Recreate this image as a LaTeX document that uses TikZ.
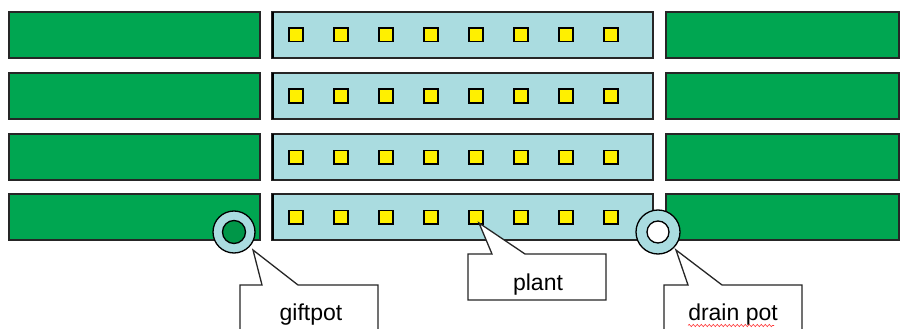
\documentclass[tikz,border=0pt]{standalone}
\usepackage{fontspec}
\setmainfont{Liberation Sans}
\usetikzlibrary{decorations.pathmorphing}
\definecolor{bedgreen}{RGB}{0,166,81}
\definecolor{potgreen}{RGB}{0,150,72}
\definecolor{pathblue}{RGB}{170,220,224}
\definecolor{plantyellow}{RGB}{255,240,0}
\tikzset{
  bed/.style={draw=black!85,line width=1.1pt,fill=bedgreen},
  walk/.style={draw=black!85,line width=1.1pt,fill=pathblue},
  seedling/.style={draw=black,line width=1.5pt,fill=plantyellow,minimum width=14pt,minimum height=13.5pt,inner sep=0pt},
  potring/.style={draw=black,line width=1.3pt,fill=pathblue,circle,inner sep=0pt},
  callout/.style={draw=black!85,line width=1.3pt,fill=white},
  lbl/.style={font=\fontsize{23}{27}\selectfont,anchor=base,inner sep=0pt}
}
\begin{document}
\begin{tikzpicture}[x=1pt,y=-1pt]
\useasboundingbox (0,0) rectangle (900,329);
\clip (0,0) rectangle (900,329);
\fill[white] (0,0) rectangle (900,329);
\foreach \r/\t in {1/12,2/73,3/134,4/194}{
  \path[bed] (9,\t) rectangle (260,\t+46);
  \path[walk] (272,\t) rectangle (653,\t+46);
  \draw[black,line width=2.2pt] (273,\t) -- (273,\t+46);
  \path[bed] (666,\t) rectangle (899,\t+46);
  \foreach \i in {0,...,7}{
    \node[seedling] (s\r\i) at (296+45*\i,\t+23) {};
  }
}
% gift pot
\node[potring,minimum size=42pt] (gift) at (234,232) {};
\node[circle,draw=black,line width=1.3pt,fill=potgreen,minimum size=23pt,inner sep=0pt] (giftin) at (234,232) {};
% drain pot
\node[potring,minimum size=44pt] (drain) at (658,232) {};
\node[circle,draw=black,line width=1.3pt,fill=white,minimum size=22pt,inner sep=0pt] (drainin) at (658,232) {};
% callouts
\coordinate (gtip) at (253,250);
\draw[callout] (240,340) -- (240,285) -- (262,285) -- (gtip) -- (298,285) -- (378,285) -- (378,340) -- cycle;
\node[lbl] (giftlbl) at (311,320) {giftpot};
\coordinate (ptip) at (479,223);
\draw[callout] (468,254) -- (492,254) -- (ptip) -- (525,254) -- (606,254) -- (606,300) -- (468,300) -- cycle;
\node[lbl] (plantlbl) at (538,290) {plant};
\coordinate (dtip) at (676,250);
\draw[callout] (664,340) -- (664,285) -- (688,285) -- (dtip) -- (722,285) -- (802,285) -- (802,340) -- cycle;
\node[lbl] (drainlbl) at (733,320) {drain pot};
\draw[red!80,line width=0.6pt,decorate,decoration={snake,amplitude=1.1pt,segment length=4pt}] (688,325.5) -- (774,325.5);
\end{tikzpicture}
\end{document}
